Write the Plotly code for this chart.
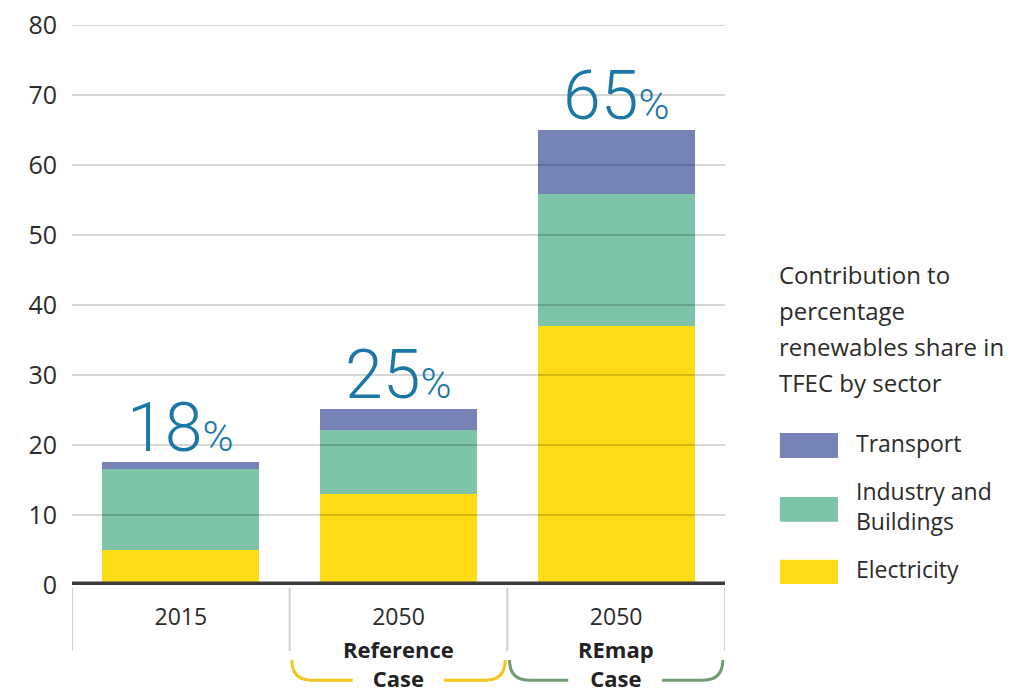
import plotly.graph_objects as go

# Data
categories = ["2015", "2050 Reference", "2050 REmap"]
year_labels = ["2015", "2050", "2050"]
case_labels = ["", "Reference<br>Case", "REmap<br>Case"]
electricity = [5.0, 13.0, 37.0]
industry_buildings = [11.6, 9.1, 18.9]
transport = [1.0, 3.0, 9.1]
share_labels = ["18", "25", "65"]
y_ticks = [0, 10, 20, 30, 40, 50, 60, 70, 80]

sector_names = ["Transport", "Industry and<br>Buildings", "Electricity"]
sector_colors = ["#7783b6", "#7dc4a9", "#fddc16"]
legend_title = ["Contribution to", "percentage", "renewables share in", "TFEC by sector"]

font_main = "Open Sans, sans-serif"
font_pct = "Roboto, sans-serif"

fig = go.Figure()
for name, vals, col in [("Electricity", electricity, sector_colors[2]),
                        ("Industry and Buildings", industry_buildings, sector_colors[1]),
                        ("Transport", transport, sector_colors[0])]:
    fig.add_trace(go.Bar(x=categories, y=vals, name=name, marker_color=col,
                         marker_line_width=0, showlegend=False))

totals = [e + i + t for e, i, t in zip(electricity, industry_buildings, transport)]

annotations = []
# percentage labels above the bars (x given as category index)
for i, (tot, lab) in enumerate(zip(totals, share_labels)):
    annotations.append(dict(
        x=i, y=tot, xref="x", yref="y", yanchor="bottom", yshift=-8, showarrow=False,
        text=lab + "<span style='font-size:42px'>%</span>",
        font=dict(family=font_pct, size=68, weight=300, color="#1b78a6")))

# scenario names below the years
for i, lab in enumerate(case_labels):
    if lab:
        annotations.append(dict(
            x=i, y=-0.141, xref="x", yref="paper", yanchor="middle",
            showarrow=False, text="<b>" + lab + "</b>",
            font=dict(family=font_main, size=22, color="#222222")))

# legend title
for k, line in enumerate(legend_title):
    annotations.append(dict(
        x=1.080, y=0.5553 - k * 0.0643, xref="paper", yref="paper", xanchor="left",
        yanchor="middle", showarrow=False, text=line,
        font=dict(family=font_main, size=24, color="#2b2b2b")))

shapes = []
# custom legend swatches
swatch_y = [(0.2268, 0.2714), (0.113, 0.157), (0.002, 0.045)]
for (y0, y1), col, name in zip(swatch_y, sector_colors, sector_names):
    shapes.append(dict(type="rect", xref="paper", yref="paper", x0=1.084, x1=1.173,
                       y0=y0, y1=y1, fillcolor=col, line_width=0))
    annotations.append(dict(
        x=1.197, y=(y0 + y1) / 2, xref="paper", yref="paper", xanchor="left",
        yanchor="middle", align="left", showarrow=False, text=name, yshift=3,
        font=dict(family=font_main, size=23, color="#2b2b2b")))

# gridlines drawn over the bars
for t in y_ticks[1:]:
    shapes.append(dict(type="line", xref="paper", yref="y", x0=0, x1=1, y0=t, y1=t,
                       line=dict(color="rgba(0,0,0,0.16)", width=2), layer="above"))

# thick baseline
shapes.append(dict(type="line", xref="paper", yref="y", x0=0, x1=1, y0=0, y1=0,
                   line=dict(color="#3c3c3e", width=7), layer="above"))

# separators between categories below the axis
for xv in [-0.5, 0.5, 1.5, 2.5]:
    shapes.append(dict(type="line", xref="x", yref="paper", x0=xv, x1=xv, y0=-0.005, y1=-0.118,
                       line=dict(color="#d0d0d0", width=2)))

# brackets under the scenario names
def bracket(x0, xl, xr, x1, color):
    top, bot, r = -0.134, -0.170, 0.09
    path = (f"M {x0},{top} Q {x0},{bot} {x0 + r},{bot} L {xl},{bot} "
            f"M {xr},{bot} L {x1 - r},{bot} Q {x1},{bot} {x1},{top}")
    return dict(type="path", xref="x", yref="paper", path=path,
                line=dict(color=color, width=3))

shapes.append(bracket(0.51, 0.79, 1.21, 1.49, "#f2c61c"))
shapes.append(bracket(1.51, 1.78, 2.21, 2.49, "#729a74"))

fig.update_layout(
    width=1020, height=683,
    margin=dict(l=64, r=303, t=17, b=106),
    barmode="stack", bargap=0.28,
    plot_bgcolor="white", paper_bgcolor="white",
    font=dict(family=font_main, color="#2b2b2b"),
    xaxis=dict(tickmode="array", tickvals=categories, ticktext=year_labels,
               range=[-0.5, 2.5], showgrid=False, showline=False, ticks="",
               automargin=False, ticklabelstandoff=16,
               tickfont=dict(size=23, color="#2b2b2b")),
    yaxis=dict(range=[0, 80], tickvals=y_ticks, showgrid=False, zeroline=False,
               ticks="", ticklabelstandoff=14, ticklabeloverflow="allow",
               automargin=False, tickfont=dict(size=25, color="#2b2b2b")),
    annotations=annotations,
    shapes=shapes,
)

fig.write_html("out.html")
